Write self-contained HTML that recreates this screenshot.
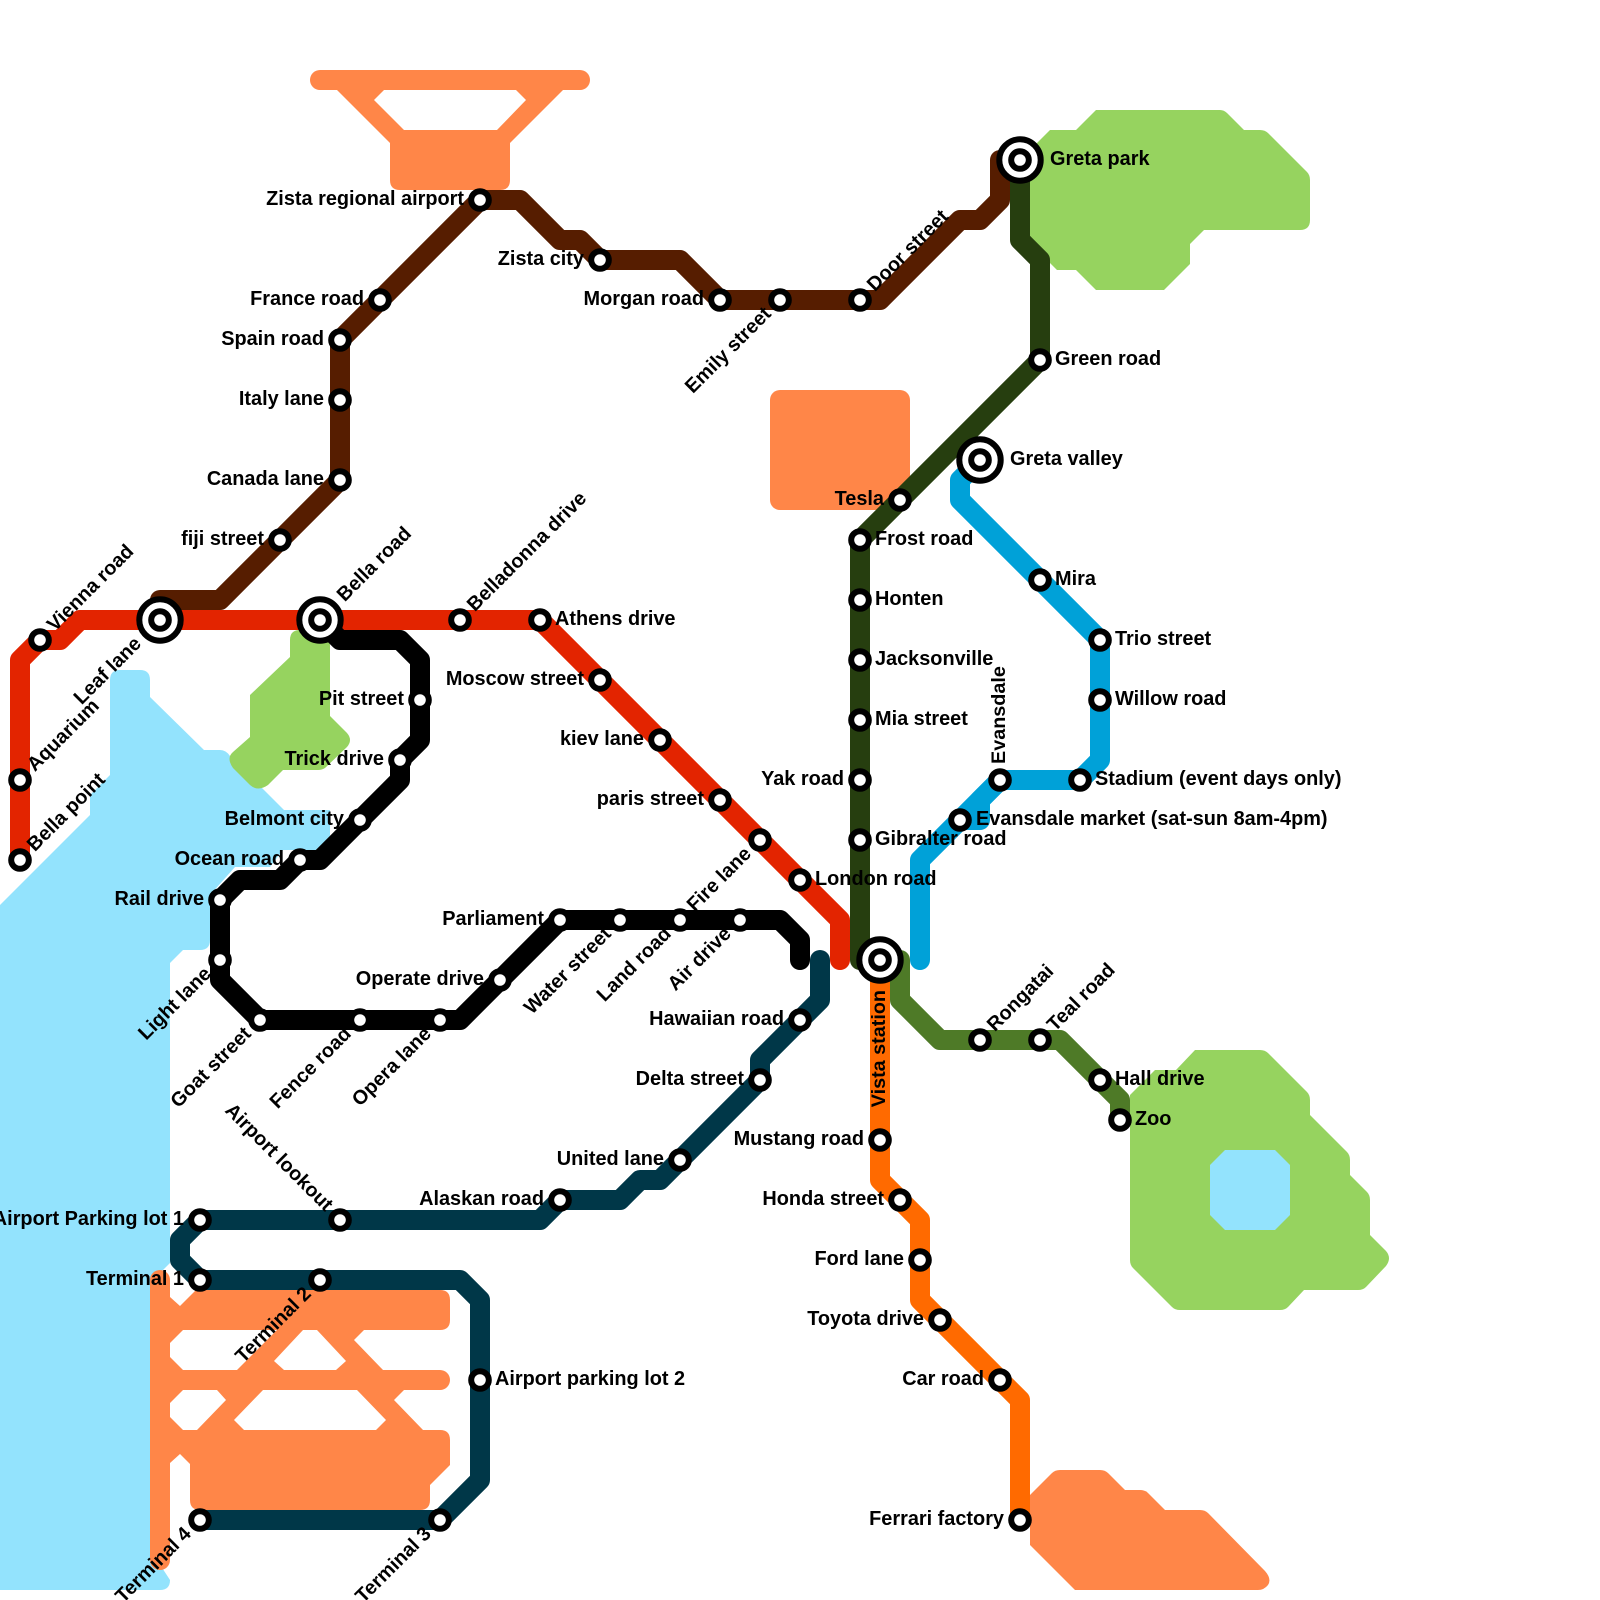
<!DOCTYPE html>
<html><head><meta charset="utf-8"><style>html,body{margin:0;padding:0;background:#fff}svg{display:block}</style></head>
<body>
<svg xmlns="http://www.w3.org/2000/svg" width="1600" height="1600" viewBox="0 0 1600 1600">
<rect width="1600" height="1600" fill="#fff"/>
<!-- water -->
<path fill="#93e3fd" d="M0 905L90 815L90 795L110 775L110 680Q110 670 120 670L140 670Q150 670 150 680L150 697L204 750L220 750Q226 750 230 756L284 810L330 810L330 836L316 850L283 850L270 867L235 867L210 895L210 940Q210 950 200 950L183 950L170 963L170 1263L157 1276L157 1560L170 1580Q170 1590 160 1590L0 1590Z"/>
<!-- parks -->
<g fill="#96d35f">
<path d="M1030 150L1050 130L1076 130L1096 110L1220 110Q1224 110 1227 113L1244 130L1260 130Q1265 130 1268 133L1307 172Q1310 175 1310 180L1310 220Q1310 230 1300 230L1204 230L1190 244L1190 264L1164 290L1096 290L1076 270L1057 270L1050 263L1030 243Z"/>
<path d="M290 640Q290 630 300 630L330 630L330 716L347 733Q353 740 347 747L325 768Q322 770 318 770L283 770L268 785Q258 792 250 785L233 768Q226 758 233 752L250 737L250 695L290 657Z"/>
<path d="M1130 1095L1155 1070L1176 1070L1195 1050L1260 1050Q1265 1050 1268 1053L1307 1092Q1310 1095 1310 1100L1310 1115L1347 1152Q1350 1155 1350 1160L1350 1175L1367 1192Q1370 1195 1370 1200L1370 1235L1386 1251Q1392 1258 1386 1266L1366 1287Q1363 1290 1358 1290L1304 1290L1288 1307Q1285 1310 1280 1310L1180 1310Q1175 1310 1172 1307L1133 1268Q1130 1265 1130 1260Z"/>
</g>
<polygon fill="#93e3fd" points="1210,1165 1225,1150 1275,1150 1290,1165 1290,1215 1275,1230 1225,1230 1210,1215"/>
<!-- airports / orange -->
<g fill="#ff8648">
<path d="M320 70L580 70A10 10 0 0 1 580 90L563 90L510 143L510 180Q510 190 500 190L400 190Q390 190 390 180L390 143L337 90L320 90A10 10 0 0 1 320 70Z M384 90L374 100L404 130L497 130L526 100L516 90Z" fill-rule="evenodd"/>
<rect x="770" y="390" width="140" height="120" rx="10"/>
<rect x="150" y="1270" width="20" height="300" rx="10"/>
<path fill-rule="evenodd" d="M165 1297L170 1297L180 1306L196 1290L440 1290Q450 1290 450 1300L450 1320Q450 1330 440 1330L364 1330L354 1340L383 1370L440 1370A10 10 0 0 1 440 1390L404 1390L394 1400L423 1430L440 1430Q450 1430 450 1440L450 1465L430 1485L430 1500Q430 1510 420 1510L200 1510Q190 1510 190 1500L190 1464L180 1454L170 1463L165 1463Z
M183 1330L277 1330L237 1370L183 1370L170 1357L170 1343Z
M303 1330L317 1330L346 1361L336 1370L284 1370L274 1361Z
M183 1390L217 1390L226 1400L197 1430L183 1430L170 1417L170 1403Z
M263 1390L357 1390L386 1420L376 1430L244 1430L234 1420Z"/>
<path d="M1030 1495L1052 1473Q1055 1470 1060 1470L1100 1470Q1105 1470 1108 1473L1125 1490L1140 1490Q1145 1490 1148 1493L1165 1510L1200 1510Q1205 1510 1208 1513L1265 1571Q1272 1579 1268 1585Q1264 1590 1258 1590L1075 1590L1030 1545Z"/>
</g>
<!-- lines -->
<g fill="none" stroke-width="20" stroke-linecap="round" stroke-linejoin="round">
<polyline stroke="#561d00" points="160,620 160,600 220,600 340,480 340,340 480,200 520,200 560,240 580,240 600,260 680,260 720,300 880,300 960,220 980,220 1000,200 1000,160 1020,160"/>
<polyline stroke="#263e0f" points="1020,160 1020,240 1040,260 1040,360 860,540 860,960 880,960"/>
<polyline stroke="#e32400" points="20,860 20,660 40,640 60,640 80,620 540,620 840,920 840,960"/>
<polyline stroke="#000000" points="320,620 340,640 400,640 420,660 420,740 400,760 400,780 320,860 300,860 280,880 240,880 220,900 220,980 260,1020 460,1020 560,920 780,920 800,940 800,960"/>
<polyline stroke="#003748" points="820,960 820,1000 760,1060 760,1080 660,1180 640,1180 620,1200 560,1200 540,1220 200,1220 180,1240 180,1260 200,1280 460,1280 480,1300 480,1480 440,1520 200,1520"/>
<polyline stroke="#00a1d8" points="980,460 960,480 960,500 1100,640 1100,760 1080,780 1000,780 920,860 920,960"/>
<polyline stroke="#00a1d8" points="1000,780 980,800 980,820 960,820"/>
<polyline stroke="#ff6a00" points="880,960 880,1180 920,1220 920,1300 1020,1400 1020,1520"/>
<polyline stroke="#4e7a27" points="880,960 900,960 900,1000 940,1040 1060,1040 1120,1100 1120,1120"/>
</g>
<!-- interchange rings -->
<g fill="#fff" stroke="#000" stroke-width="6">
<circle cx="160" cy="620" r="20.7"/><circle cx="320" cy="620" r="20.7"/><circle cx="880" cy="960" r="20.7"/><circle cx="980" cy="460" r="20.7"/><circle cx="1020" cy="160" r="20.7"/>
</g>
<!-- stations -->
<g fill="#fff" stroke="#000" stroke-width="6">
<circle cx="160" cy="620" r="8.8"/><circle cx="320" cy="620" r="8.8"/><circle cx="880" cy="960" r="8.8"/><circle cx="980" cy="460" r="8.8"/><circle cx="1020" cy="160" r="8.8"/>
<circle cx="480" cy="200" r="8.8"/><circle cx="380" cy="300" r="8.8"/><circle cx="340" cy="340" r="8.8"/><circle cx="340" cy="400" r="8.8"/><circle cx="340" cy="480" r="8.8"/><circle cx="280" cy="540" r="8.8"/>
<circle cx="600" cy="260" r="8.8"/><circle cx="720" cy="300" r="8.8"/><circle cx="780" cy="300" r="8.8"/><circle cx="860" cy="300" r="8.8"/>
<circle cx="1040" cy="360" r="8.8"/><circle cx="900" cy="500" r="8.8"/><circle cx="860" cy="540" r="8.8"/><circle cx="860" cy="600" r="8.8"/><circle cx="860" cy="660" r="8.8"/><circle cx="860" cy="720" r="8.8"/><circle cx="860" cy="780" r="8.8"/><circle cx="860" cy="840" r="8.8"/>
<circle cx="40" cy="640" r="8.8"/><circle cx="20" cy="780" r="8.8"/><circle cx="20" cy="860" r="8.8"/><circle cx="460" cy="620" r="8.8"/><circle cx="540" cy="620" r="8.8"/><circle cx="600" cy="680" r="8.8"/><circle cx="660" cy="740" r="8.8"/><circle cx="720" cy="800" r="8.8"/><circle cx="760" cy="840" r="8.8"/><circle cx="800" cy="880" r="8.8"/>
<circle cx="420" cy="700" r="8.8"/><circle cx="400" cy="760" r="8.8"/><circle cx="360" cy="820" r="8.8"/><circle cx="300" cy="860" r="8.8"/><circle cx="220" cy="900" r="8.8"/><circle cx="220" cy="960" r="8.8"/><circle cx="260" cy="1020" r="8.8"/><circle cx="360" cy="1020" r="8.8"/><circle cx="440" cy="1020" r="8.8"/><circle cx="500" cy="980" r="8.8"/><circle cx="560" cy="920" r="8.8"/><circle cx="620" cy="920" r="8.8"/><circle cx="680" cy="920" r="8.8"/><circle cx="740" cy="920" r="8.8"/>
<circle cx="800" cy="1020" r="8.8"/><circle cx="760" cy="1080" r="8.8"/><circle cx="680" cy="1160" r="8.8"/><circle cx="560" cy="1200" r="8.8"/><circle cx="340" cy="1220" r="8.8"/><circle cx="200" cy="1220" r="8.8"/><circle cx="200" cy="1280" r="8.8"/><circle cx="320" cy="1280" r="8.8"/><circle cx="480" cy="1380" r="8.8"/><circle cx="440" cy="1520" r="8.8"/><circle cx="200" cy="1520" r="8.8"/>
<circle cx="1040" cy="580" r="8.8"/><circle cx="1100" cy="640" r="8.8"/><circle cx="1100" cy="700" r="8.8"/><circle cx="1080" cy="780" r="8.8"/><circle cx="1000" cy="780" r="8.8"/><circle cx="960" cy="820" r="8.8"/>
<circle cx="880" cy="1140" r="8.8"/><circle cx="900" cy="1200" r="8.8"/><circle cx="920" cy="1260" r="8.8"/><circle cx="940" cy="1320" r="8.8"/><circle cx="1000" cy="1380" r="8.8"/><circle cx="1020" cy="1520" r="8.8"/>
<circle cx="980" cy="1040" r="8.8"/><circle cx="1040" cy="1040" r="8.8"/><circle cx="1100" cy="1080" r="8.8"/><circle cx="1120" cy="1120" r="8.8"/>
</g>
<!-- labels -->
<g font-family="'Liberation Sans', Arial, sans-serif" font-weight="700" font-size="19.9" fill="#000">
<!-- right -->
<text x="1050" y="165">Greta park</text>
<text x="1055" y="365">Green road</text>
<text x="1010" y="465">Greta valley</text>
<text x="875" y="545">Frost road</text>
<text x="875" y="605">Honten</text>
<text x="875" y="665">Jacksonville</text>
<text x="875" y="725">Mia street</text>
<text x="875" y="845">Gibralter road</text>
<text x="815" y="885">London road</text>
<text x="555" y="625">Athens drive</text>
<text x="1055" y="585">Mira</text>
<text x="1115" y="645">Trio street</text>
<text x="1115" y="705">Willow road</text>
<text x="1095" y="785">Stadium (event days only)</text>
<text x="976" y="825">Evansdale market (sat-sun 8am-4pm)</text>
<text x="1115" y="1085">Hall drive</text>
<text x="1135" y="1125">Zoo</text>
<text x="495" y="1385">Airport parking lot 2</text>
<!-- left -->
<g text-anchor="end">
<text x="464" y="205">Zista regional airport</text>
<text x="364" y="305">France road</text>
<text x="324" y="345">Spain road</text>
<text x="324" y="405">Italy lane</text>
<text x="324" y="485">Canada lane</text>
<text x="264" y="545">fiji street</text>
<text x="584" y="265">Zista city</text>
<text x="704" y="305">Morgan road</text>
<text x="884" y="505">Tesla</text>
<text x="844" y="785">Yak road</text>
<text x="584" y="685">Moscow street</text>
<text x="644" y="745">kiev lane</text>
<text x="704" y="805">paris street</text>
<text x="404" y="705">Pit street</text>
<text x="384" y="765">Trick drive</text>
<text x="344" y="825">Belmont city</text>
<text x="284" y="865">Ocean road</text>
<text x="204" y="905">Rail drive</text>
<text x="484" y="985">Operate drive</text>
<text x="544" y="925">Parliament</text>
<text x="784" y="1025">Hawaiian road</text>
<text x="744" y="1085">Delta street</text>
<text x="664" y="1165">United lane</text>
<text x="544" y="1205">Alaskan road</text>
<text x="184" y="1225">Airport Parking lot 1</text>
<text x="184" y="1285">Terminal 1</text>
<text x="864" y="1145">Mustang road</text>
<text x="884" y="1205">Honda street</text>
<text x="904" y="1265">Ford lane</text>
<text x="924" y="1325">Toyota drive</text>
<text x="984" y="1385">Car road</text>
<text x="1004" y="1525">Ferrari factory</text>
<!-- rotated end -->
<g font-size="19.8">
<text x="130" y="625" transform="rotate(-45 160 620)">Leaf lane</text>
<text x="764" y="305" transform="rotate(-45 780 300)">Emily street</text>
<text x="744" y="845" transform="rotate(-45 760 840)">Fire lane</text>
<text x="604" y="925" transform="rotate(-45 620 920)">Water street</text>
<text x="664" y="925" transform="rotate(-45 680 920)">Land road</text>
<text x="724" y="925" transform="rotate(-45 740 920)">Air drive</text>
<text x="204" y="965" transform="rotate(-45 220 960)">Light lane</text>
<text x="244" y="1025" transform="rotate(-45 260 1020)">Goat street</text>
<text x="344" y="1025" transform="rotate(-45 360 1020)">Fence road</text>
<text x="424" y="1025" transform="rotate(-45 440 1020)">Opera lane</text>
<text x="304" y="1285" transform="rotate(-45 320 1280)">Terminal 2</text>
<text x="424" y="1525" transform="rotate(-45 440 1520)">Terminal 3</text>
<text x="184" y="1525" transform="rotate(-45 200 1520)">Terminal 4</text>
<text x="324" y="1225" transform="rotate(45 340 1220)">Airport lookout</text>
<text x="850" y="965" transform="rotate(-90 880 960)">Vista station</text>
</g>
</g>
<!-- rotated start -->
<g font-size="19.8">
<text x="56" y="645" transform="rotate(-45 40 640)">Vienna road</text>
<text x="36" y="785" transform="rotate(-45 20 780)">Aquarium</text>
<text x="36" y="865" transform="rotate(-45 20 860)">Bella point</text>
<text x="350" y="625" transform="rotate(-45 320 620)">Bella road</text>
<text x="476" y="625" transform="rotate(-45 460 620)">Belladonna drive</text>
<text x="876" y="305" transform="rotate(-45 860 300)">Door street</text>
<text x="996" y="1045" transform="rotate(-45 980 1040)">Rongatai</text>
<text x="1056" y="1045" transform="rotate(-45 1040 1040)">Teal road</text>
<text x="1016" y="785" transform="rotate(-90 1000 780)">Evansdale</text>
</g>
</g>
</svg>
</body></html>
